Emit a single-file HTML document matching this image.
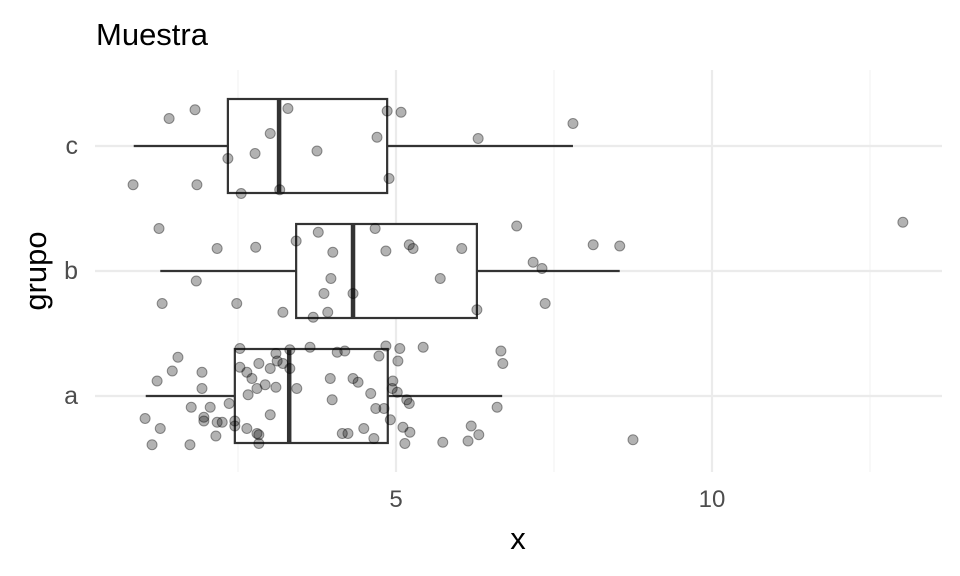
<!DOCTYPE html>
<html><head><meta charset="utf-8"><style>
body{margin:0;background:#fff}
svg{display:block;font-family:"Liberation Sans",sans-serif}
</style></head><body>
<svg id="chart" width="960" height="576">
<text x="96" y="45" font-size="31" fill="#000">Muestra</text>
<text x="518" y="549" font-size="31" text-anchor="middle" fill="#000">x</text>
<text transform="translate(46,271) rotate(-90)" font-size="31" text-anchor="middle" fill="#000">grupo</text>
<g id="grid"></g><g id="boxes"></g><g id="pts"></g><g id="axes"></g>
</svg>
<script>
const groups=["a","b","c"];
const xTicks=[5,10];
const xMinor=[2.5,7.5,12.5];
const boxLo=[1.04,1.27,0.85];
const boxQ1=[2.45,3.42,2.34];
const boxMed=[3.31,4.32,3.15];
const boxQ3=[4.87,6.28,4.86];
const boxHi=[6.68,8.54,7.80];
const aX=[1.55,1.46,1.22,1.93,1.93,1.03,1.27,1.14,1.74,1.76,2.06,1.96,1.96,2.17,2.25,2.15,2.36,2.45,2.45,2.53,2.53,2.64,2.72,2.83,3.01,3.10,3.12,3.21,3.32,3.32,2.93,3.10,2.80,2.66,3.01,2.64,2.80,2.83,2.83,3.43,3.64,4.07,4.19,3.96,4.32,4.40,3.99,4.15,4.24,4.49,4.65,4.60,4.68,4.81,4.73,4.84,5.06,5.03,4.95,4.94,5.02,5.17,5.21,4.91,5.11,5.22,5.14,5.43,5.74,6.14,6.19,6.31,6.60,6.66,6.69,8.75];
const aJ=[0.31,0.20,0.12,0.19,0.06,-0.18,-0.26,-0.39,-0.39,-0.09,-0.09,-0.17,-0.20,-0.21,-0.21,-0.32,-0.06,-0.20,-0.24,0.38,0.23,0.19,0.14,0.26,0.22,0.34,0.28,0.26,0.37,0.22,0.09,0.07,0.06,0.01,-0.15,-0.26,-0.30,-0.31,-0.38,0.06,0.39,0.35,0.36,0.14,0.14,0.11,-0.03,-0.30,-0.30,-0.26,-0.34,0.02,-0.10,-0.10,0.32,0.40,0.38,0.28,0.12,0.06,0.03,-0.03,-0.06,-0.19,-0.25,-0.29,-0.38,0.39,-0.37,-0.36,-0.24,-0.31,-0.09,0.36,0.26,-0.35];
const bX=[1.25,2.17,2.78,3.42,3.77,4.00,4.67,4.84,5.21,5.27,6.04,6.91,7.17,7.31,8.12,8.54,1.84,3.97,5.70,1.30,2.48,3.86,4.32,3.21,3.69,3.92,6.28,7.36,13.02];
const bJ=[0.34,0.18,0.19,0.24,0.31,0.15,0.34,0.16,0.21,0.18,0.18,0.36,0.07,0.02,0.21,0.20,-0.08,-0.06,-0.06,-0.26,-0.26,-0.18,-0.18,-0.33,-0.37,-0.33,-0.31,-0.26,0.39];
const cX=[1.41,1.82,3.29,4.86,5.08,7.80,3.01,4.70,6.30,2.77,2.34,3.75,0.84,1.85,4.89,2.55,3.16];
const cJ=[0.22,0.29,0.30,0.28,0.27,0.18,0.10,0.07,0.06,-0.06,-0.10,-0.04,-0.31,-0.31,-0.26,-0.38,-0.35];
const NS="http://www.w3.org/2000/svg";
const sx=v=>80+63.2*v;
const sy=g=>396-125*g;
function mk(tag,attrs,parent){const e=document.createElementNS(NS,tag);for(const k in attrs)e.setAttribute(k,attrs[k]);document.getElementById(parent).appendChild(e);return e;}
xMinor.forEach(t=>{const l=mk("line",{x1:sx(t),x2:sx(t),y1:70,y2:472,stroke:"#f2f2f2","stroke-width":1.2},"grid");

});
xTicks.forEach(t=>{const l=mk("line",{x1:sx(t),x2:sx(t),y1:70,y2:472,stroke:"#ebebeb","stroke-width":2.2},"grid");


const tx=mk("text",{x:sx(t),y:507,"font-size":24,"text-anchor":"middle",fill:"#4d4d4d"},"axes");tx.textContent=t;

});
groups.forEach((g,i)=>{const l=mk("line",{x1:95,x2:942,y1:sy(i),y2:sy(i),stroke:"#ebebeb","stroke-width":2.2},"grid");


const tx=mk("text",{x:78,y:sy(i)+8,"font-size":25,"text-anchor":"end",fill:"#4d4d4d"},"axes");tx.textContent=g;


const y=sy(i),h=47;
const w1=mk("line",{x1:sx(boxLo[i]),x2:sx(boxQ1[i]),y1:y,y2:y,stroke:"#333","stroke-width":2.2},"boxes");


const w2=mk("line",{x1:sx(boxQ3[i]),x2:sx(boxHi[i]),y1:y,y2:y,stroke:"#333","stroke-width":2.2},"boxes");


const r=mk("rect",{x:sx(boxQ1[i]),y:y-h,width:sx(boxQ3[i])-sx(boxQ1[i]),height:2*h,fill:"#fff",stroke:"#333","stroke-width":2.2},"boxes");


const m=mk("line",{x1:sx(boxMed[i]),x2:sx(boxMed[i]),y1:y-h,y2:y+h,stroke:"#333","stroke-width":4.5},"boxes");

});
[[aX,aJ,0],[bX,bJ,1],[cX,cJ,2]].forEach(([xs,js,gi])=>{xs.forEach((v,k)=>{
const c=mk("circle",{cx:sx(v),cy:sy(gi+js[k]),r:5,fill:"rgba(0,0,0,0.3)",stroke:"rgba(0,0,0,0.4)","stroke-width":1},"pts");

});});
</script>
</body></html>
